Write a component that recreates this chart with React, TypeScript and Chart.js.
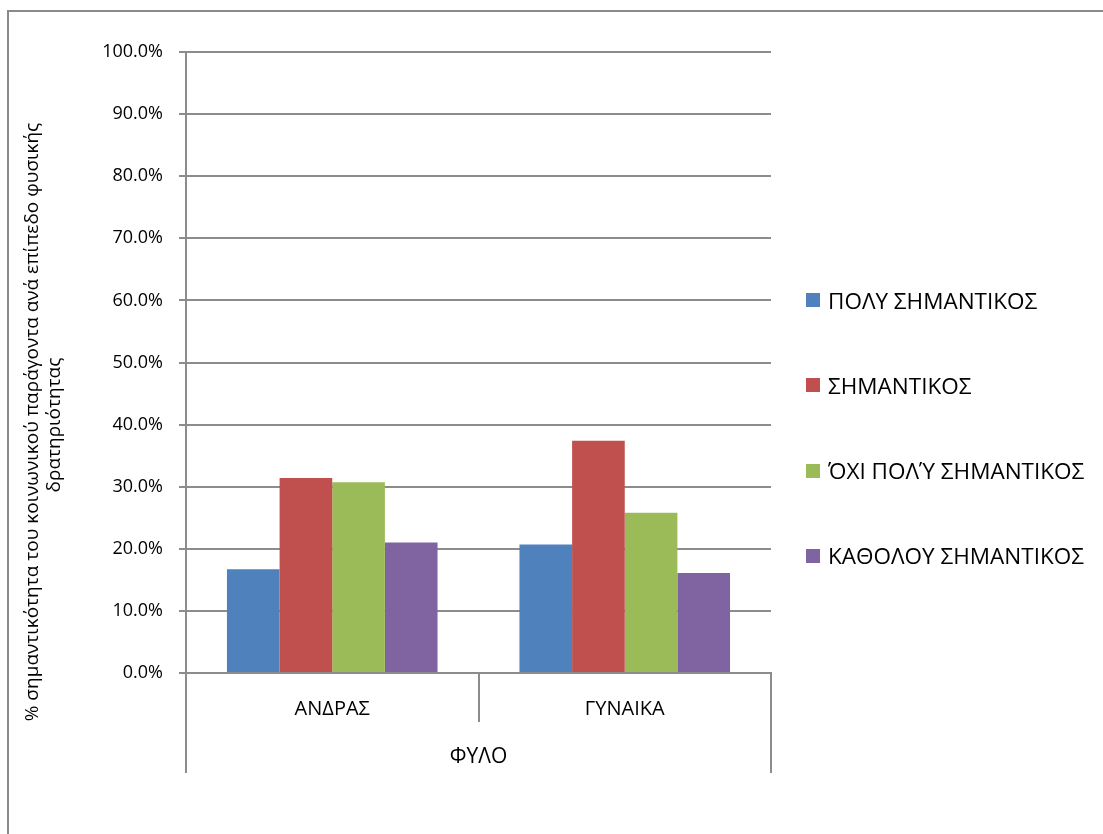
import React, { useEffect, useRef } from "react";
import { Chart, registerables } from "chart.js";

Chart.register(...registerables);

const FONT = "'Open Sans', 'Noto Sans', sans-serif";

const categories = ["ΑΝΔΡΑΣ", "ΓΥΝΑΙΚΑ"];
const seriesNames = [
  "ΠΟΛΥ ΣΗΜΑΝΤΙΚΟΣ",
  "ΣΗΜΑΝΤΙΚΟΣ",
  "ΌΧΙ ΠΟΛΎ ΣΗΜΑΝΤΙΚΟΣ",
  "ΚΑΘΟΛΟΥ ΣΗΜΑΝΤΙΚΟΣ",
];
const polySimantikos = [16.7, 20.7];
const simantikos = [31.4, 37.4];
const oxiPolySimantikos = [30.7, 25.8];
const katholouSimantikos = [21.0, 16.1];
const seriesValues = [polySimantikos, simantikos, oxiPolySimantikos, katholouSimantikos];
const seriesColors = ["#4F81BD", "#C0504D", "#9BBB59", "#8064A2"];

const xAxisTitle = "ΦΥΛΟ";
const yTitleLines = [
  "% σημαντικότητα του κοινωνικού παράγοντα ανά επίπεδο φυσικής",
  "δρατηριότητας",
];
const yMin = 0;
const yMax = 100;
const yStep = 10;

const GRID = "#8c8c8c";

export default function App() {
  const ref = useRef<HTMLCanvasElement>(null);

  useEffect(() => {
    const extraPlugin = {
      id: "extra",
      afterDraw(chart: any) {
        const { ctx, chartArea } = chart;
        ctx.save();
        ctx.strokeStyle = GRID;
        ctx.lineWidth = 2;
        ctx.beginPath();
        ctx.moveTo(chartArea.left, chartArea.bottom + 48);
        ctx.lineTo(chartArea.left, chartArea.bottom + 100);
        ctx.moveTo(chartArea.right, chartArea.bottom + 48);
        ctx.lineTo(chartArea.right, chartArea.bottom + 100);
        ctx.stroke();
        // y-axis title
        ctx.fillStyle = "#000";
        ctx.font = `19px ${FONT}`;
        ctx.textAlign = "center";
        ctx.textBaseline = "middle";
        const pos = [
          [24, 410],
          [46, 413],
        ];
        yTitleLines.forEach((t, i) => {
          ctx.save();
          ctx.translate(pos[i][0], pos[i][1]);
          ctx.rotate(-Math.PI / 2);
          ctx.fillText(t, 0, 0);
          ctx.restore();
        });
        ctx.restore();
      },
    };

    const chart = new Chart(ref.current!, {
      type: "bar",
      data: {
        labels: categories,
        datasets: seriesNames.map((name, i) => ({
          label: name,
          data: seriesValues[i],
          backgroundColor: seriesColors[i],
          borderWidth: 0,
          categoryPercentage: 0.72,
          barPercentage: 1.0,
        })),
      },
      options: {
        responsive: false,
        animation: false,
        layout: { padding: { left: 0, right: 332, top: 40, bottom: 51 } },
        plugins: {
          legend: { display: false },
          tooltip: { enabled: false },
        },
        scales: {
          x: {
            afterFit: (s: any) => {
              s.height = 110;
            },
            grid: {
              offset: true,
              drawOnChartArea: false,
              drawTicks: true,
              tickLength: 49,
              color: GRID,
              lineWidth: 2,
            },
            border: { display: true, color: GRID, width: 2 },
            ticks: {
              color: "#000",
              font: { family: FONT, size: 20 },
              padding: -25,
            },
            title: {
              display: true,
              text: xAxisTitle,
              color: "#000",
              font: { family: FONT, size: 21 },
              padding: { top: 0, bottom: 13 },
            },
          },
          y: {
            min: yMin,
            max: yMax,
            afterFit: (s: any) => {
              s.width = 177;
            },
            grid: {
              color: GRID,
              lineWidth: 2,
              tickLength: 7,
            },
            border: { display: true, color: GRID, width: 2 },
            ticks: {
              stepSize: yStep,
              color: "#000",
              font: { family: FONT, size: 18 },
              padding: 16,
              callback: (v: any) => Number(v).toFixed(1) + "%",
            },
          },
        },
      },
      plugins: [extraPlugin],
    });
    return () => chart.destroy();
  }, []);

  return (
    <div
      style={{
        position: "absolute",
        left: 7,
        top: 10,
        width: 1200,
        height: 900,
        border: "2px solid #8a8a8a",
        background: "#fff",
        fontFamily: FONT,
      }}
    >
      <div style={{ position: "relative", width: 1094, height: 822 }}>
        <canvas ref={ref} width={1094} height={822} style={{ display: "block" }} />
        {seriesNames.map((name, i) => (
          <div
            key={name}
            style={{
              position: "absolute",
              left: 797,
              top: 288 + i * 85.3 - 15,
              height: 30,
              display: "flex",
              alignItems: "center",
              whiteSpace: "nowrap",
              fontSize: 22.5,
              color: "#000",
            }}
          >
            <span
              style={{
                display: "inline-block",
                width: 14,
                height: 14,
                background: seriesColors[i],
                marginRight: 8,
              }}
            />
            {name}
          </div>
        ))}
      </div>
    </div>
  );
}
